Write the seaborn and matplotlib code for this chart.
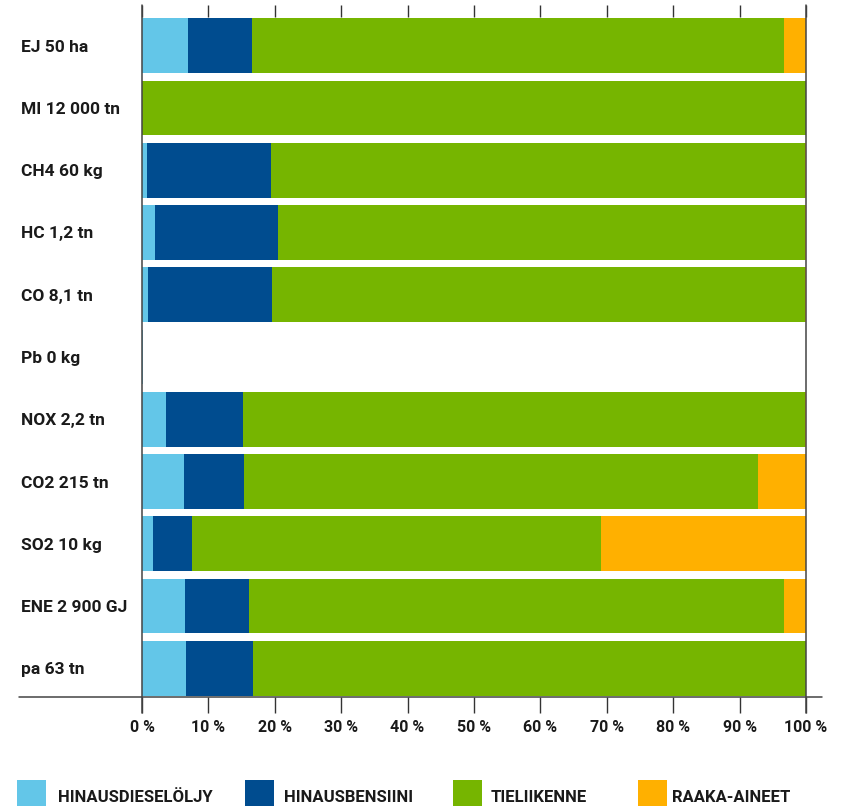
import matplotlib
matplotlib.use("Agg")
import matplotlib.pyplot as plt
from matplotlib.patches import Rectangle
import seaborn as sns
import pandas as pd
import numpy as np

categories = ["EJ 50 ha", "MI 12 000 tn", "CH4 60 kg", "HC 1,2 tn", "CO 8,1 tn", "Pb 0 kg",
              "NOX 2,2 tn", "CO2 215 tn", "SO2 10 kg", "ENE 2 900 GJ", "pa 63 tn"]
hinausdieseloljy = [7.0, 0.0, 0.7, 1.9, 0.9, 0.2, 3.6, 6.3, 1.6, 6.5, 6.7]
hinausbensiini = [9.5, 0.0, 18.7, 18.6, 18.7, 0.0, 11.6, 9.1, 6.0, 9.6, 10.0]
tieliikenne = [80.2, 100.0, 80.4, 79.3, 80.2, 0.0, 84.6, 77.4, 61.6, 80.6, 83.3]
raaka_aineet = [3.3, 0.0, 0.2, 0.2, 0.2, 0.0, 0.2, 7.2, 30.8, 3.3, 0.0]
series_names = ["HINAUSDIESELÖLJY", "HINAUSBENSIINI", "TIELIIKENNE", "RAAKA-AINEET"]
x_ticks = [0, 10, 20, 30, 40, 50, 60, 70, 80, 90, 100]
x_ticklabels = [f"{v} %" for v in x_ticks]

colors = ["#63C6E8", "#004C8F", "#76B500", "#FFB000"]

sns.set_theme(style="white")
plt.rcParams["font.family"] = ["Roboto", "DejaVu Sans"]

series = [hinausdieseloljy, hinausbensiini, tieliikenne, raaka_aineet]
df = pd.DataFrame({"cat": categories})
cum = np.zeros(len(categories))
for name, vals in zip(series_names, series):
    cum = cum + np.array(vals)
    df[name] = cum

W, H = 850, 806
fig = plt.figure(figsize=(W / 100, H / 100), dpi=100)
ax = fig.add_axes([142 / W, 1 - 697 / H, (806 - 142) / W, (697 - 17) / H])

# stacked bars: draw cumulative totals from the largest down
for name, col in reversed(list(zip(series_names, colors))):
    sns.barplot(data=df, x=name, y="cat", order=categories, color=col,
                width=0.88, orient="h", ax=ax, linewidth=0, saturation=1)

ax.set_xlim(0, 100)
ax.set_ylim(10.46, -0.46)
ax.set_xlabel("")
ax.set_ylabel("")
for s in ax.spines.values():
    s.set_visible(False)

ax.set_xticks(x_ticks)
ax.set_xticklabels(x_ticklabels, fontsize=11.5, fontweight="bold", color="#1a1a1a")
ax.tick_params(axis="x", bottom=True, top=True, direction="out", length=11.5,
               width=1, color="#333333", pad=5)
for t in ax.xaxis.get_major_ticks():
    t.tick2line.set_markersize(8.6)
    t.tick2line.set_color("#555555")

ax.set_yticks(range(len(categories)))
ax.set_yticklabels(categories, fontsize=12.5, fontweight="bold", color="#1a1a1a")
ax.tick_params(axis="y", length=0, pad=87)
for lab in ax.get_yticklabels():
    lab.set_horizontalalignment("left")

# axis frame lines
ymin_ax = (697 - 713) / 680
ymax_ax = (697 - 5) / 680
for xv in (0, 100):
    ax.axvline(xv, ymin=ymin_ax, ymax=ymax_ax, color="#444444", lw=1.1,
               clip_on=False, zorder=5)
ax.plot([(19 - 142) / 664, (822 - 142) / 664], [0, 0], transform=ax.transAxes,
        color="#444444", lw=1.1, clip_on=False, zorder=5)

# legend
sq_x = [17, 245, 453, 638]
txt_x = [58, 284, 491, 672]
for name, col, sx, tx in zip(series_names, colors, sq_x, txt_x):
    fig.add_artist(Rectangle((sx / W, 0), 29 / W, (806 - 780) / H,
                             transform=fig.transFigure, color=col, lw=0))
    fig.text(tx / W, 1 - 797 / H, name, fontsize=12, fontweight="bold",
             va="center", ha="left", color="#1a1a1a")

fig.savefig("out.png", dpi=100)
